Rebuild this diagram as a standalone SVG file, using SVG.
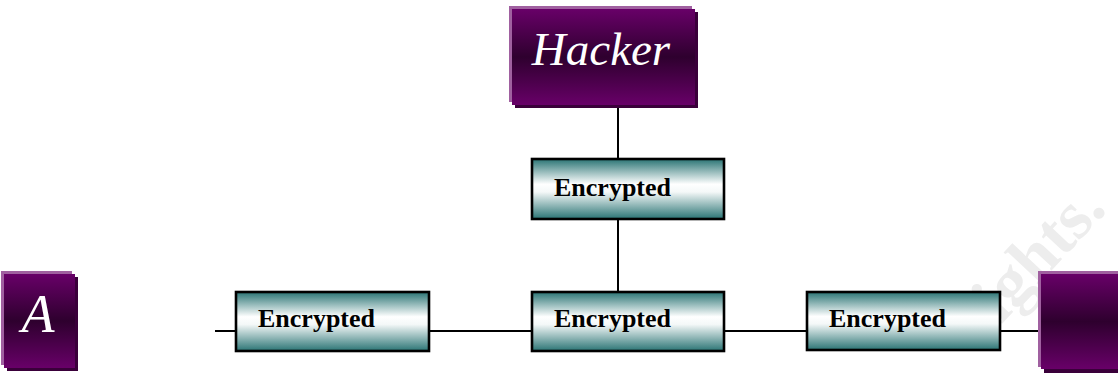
<svg xmlns="http://www.w3.org/2000/svg" width="1118" height="374" viewBox="0 0 1118 374">
  <style>
    .hi { fill: #a060a0; }
    .sh { fill: #3a003a; }
    .host { fill: url(#purple); }
    .enc { fill: url(#teal); stroke: #000; stroke-width: 2.6; }
    .enc-label { font-family: "Liberation Serif", "Times New Roman", serif; font-weight: bold; font-size: 26px; fill: #000; }
    .host-label { font-family: "Liberation Serif", "Times New Roman", serif; font-style: italic; fill: #fff; }
    .link { stroke: #000; stroke-width: 2; fill: none; }
    .mark { font-family: "Liberation Serif", "Times New Roman", serif; font-weight: bold; font-size: 68px; fill: #ededed; }
  </style>
  <defs>
    <linearGradient id="purple" x1="0" y1="0" x2="0" y2="1">
      <stop offset="0" stop-color="#680068"/>
      <stop offset="0.5" stop-color="#2e002e"/>
      <stop offset="1" stop-color="#680068"/>
    </linearGradient>
    <linearGradient id="teal" x1="0" y1="0" x2="0" y2="1">
      <stop offset="0" stop-color="#2a7474"/>
      <stop offset="0.42" stop-color="#ffffff"/>
      <stop offset="0.55" stop-color="#f4f8f8"/>
      <stop offset="1" stop-color="#2a7474"/>
    </linearGradient>
  </defs>

  <rect width="1118" height="374" fill="#fff"/>

  <!-- background watermark -->
  <text class="mark" text-anchor="end" transform="translate(1108 210) rotate(-47)">rights.</text>

  <!-- links -->
  <g id="connectors">
    <line class="link" x1="618" y1="107" x2="618" y2="159"/>
    <line class="link" x1="618" y1="219" x2="618" y2="292"/>
    <line class="link" x1="215" y1="331" x2="236" y2="331"/>
    <line class="link" x1="429" y1="331" x2="532" y2="331"/>
    <line class="link" x1="724" y1="331" x2="807" y2="331"/>
    <line class="link" x1="1000" y1="331" x2="1041" y2="331"/>
  </g>

  <!-- hosts -->
  <g id="hacker">
    <rect class="hi" x="509" y="6" width="183" height="96"/>
    <rect class="sh" x="515" y="12" width="183" height="96"/>
    <rect class="host" x="512" y="9" width="183" height="96"/>
    <text class="host-label" x="601" y="65" font-size="47" text-anchor="middle">Hacker</text>
  </g>

  <g id="host-a">
    <rect class="hi" x="1" y="271" width="71" height="94"/>
    <rect class="sh" x="7" y="277" width="71" height="94"/>
    <rect class="host" x="4" y="274" width="71" height="94"/>
    <text class="host-label" x="38" y="332" font-size="54" text-anchor="middle">A</text>
  </g>

  <g id="host-b">
    <rect class="hi" x="1038" y="271" width="90" height="96"/>
    <rect class="sh" x="1044" y="277" width="90" height="96"/>
    <rect class="host" x="1041" y="274" width="90" height="95"/>
  </g>

  <!-- encrypted segments -->
  <g id="enc-top">
    <rect class="enc" x="532" y="159" width="192" height="60"/>
    <text class="enc-label" x="554" y="196">Encrypted</text>
  </g>
  <g id="enc-left">
    <rect class="enc" x="236" y="292" width="193" height="59"/>
    <text class="enc-label" x="258" y="327">Encrypted</text>
  </g>
  <g id="enc-mid">
    <rect class="enc" x="532" y="292" width="192" height="59"/>
    <text class="enc-label" x="554" y="327">Encrypted</text>
  </g>
  <g id="enc-right">
    <rect class="enc" x="807" y="292" width="193" height="58"/>
    <text class="enc-label" x="829" y="327">Encrypted</text>
  </g>
</svg>
